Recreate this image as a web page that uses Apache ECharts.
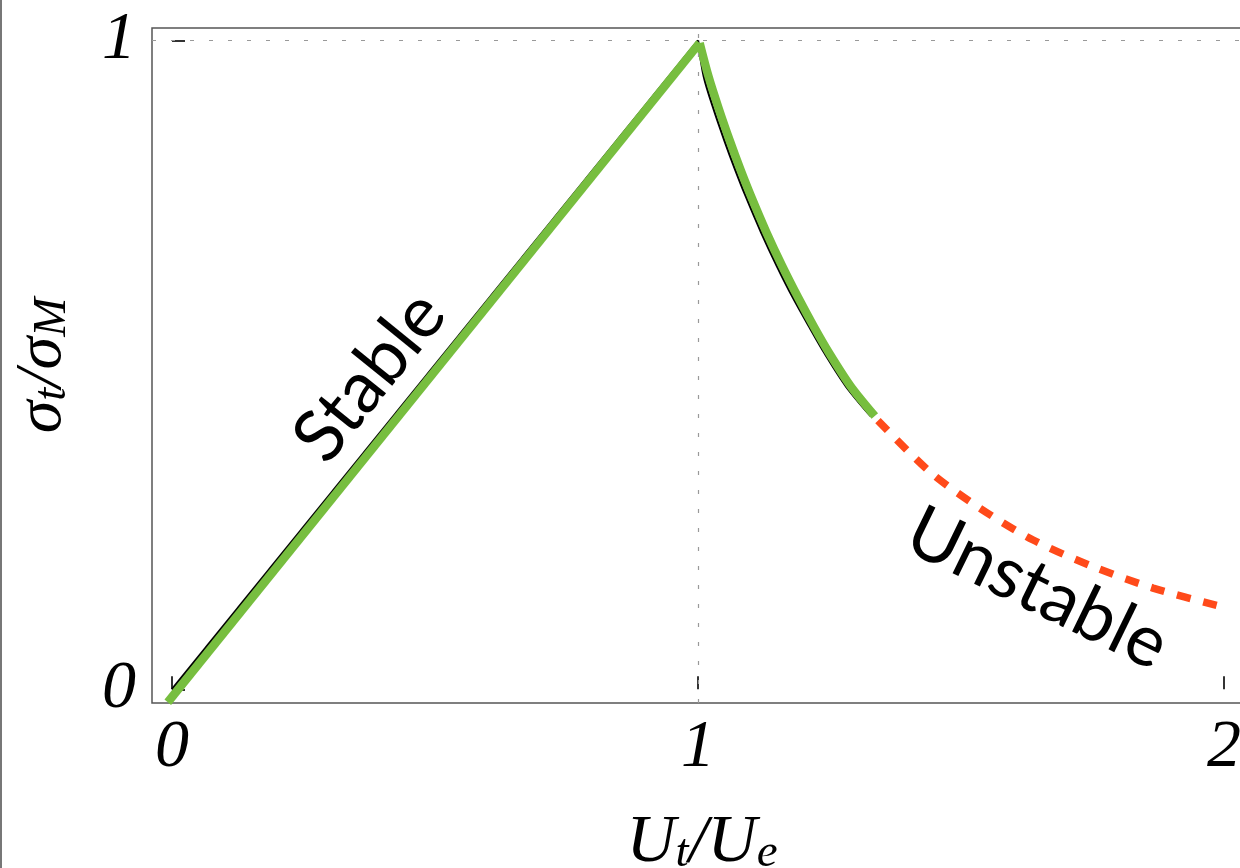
<!DOCTYPE html>
<html>
<head>
<meta charset="utf-8">
<script src="https://cdn.jsdelivr.net/npm/echarts@6/dist/echarts.min.js"></script>
<style>
html,body{margin:0;padding:0;background:#fff;}
#c{width:1240px;height:868px;}
</style>
</head>
<body>
<div id="c"></div>
<script>
// ---- data ----
var xTicks = [0, 1, 2];
var yTicks = [0, 1];
// theoretical (black, thin) curve: rising and falling parts
var blackUpX = [0, 1];
var blackUpY = [0, 1];
var blackDownX = [1, 1.011, 1.030, 1.050, 1.070, 1.090, 1.120, 1.150, 1.180, 1.211, 1.241, 1.281, 1.328];
var blackDownY = [1, 0.944, 0.893, 0.846, 0.802, 0.761, 0.704, 0.652, 0.604, 0.559, 0.517, 0.467, 0.421];
// stable branch (green) - rising part
var greenUpX = [-0.008, 1.003];
var greenUpY = [-0.02, 0.996];
// stable branch (green) - falling part
var greenDownX = [1.003, 1.02, 1.04, 1.06, 1.08, 1.10, 1.13, 1.16, 1.19, 1.22, 1.25, 1.29, 1.336];
var greenDownY = [0.996, 0.944, 0.893, 0.846, 0.802, 0.761, 0.704, 0.652, 0.604, 0.559, 0.517, 0.467, 0.421];
// unstable branch (red dashed)
var redX = [1.342, 1.441, 1.536, 1.637, 1.751, 1.865, 2.002];
var redY = [0.414, 0.335, 0.279, 0.230, 0.189, 0.156, 0.126];
// annotations
var annoText = ['Stable', 'Unstable'];
var annoX = [0.376, 1.645];
var annoY = [0.482, 0.155];
var annoRotDeg = [51, -26];

function zip(a, b) { return a.map(function (v, i) { return [v, b[i]]; }); }

var serif = '"Liberation Serif", "DejaVu Serif", serif';
var chart = echarts.init(document.getElementById('c'));
var option = {
  animation: false,
  backgroundColor: '#fff',
  grid: {
    left: 152, top: 28, width: 1100, height: 675,
    containLabel: false, outerBoundsMode: 'none',
    show: true, borderColor: '#555', borderWidth: 1.5, backgroundColor: 'transparent'
  },
  xAxis: {
    type: 'value', min: -0.038, max: 2.053,
    axisLine: { show: false },
    splitLine: { show: false },
    axisTick: { show: true, inside: true, length: 13, customValues: xTicks, lineStyle: { color: '#333', width: 2 } },
    axisLabel: {
      customValues: xTicks, margin: 11,
      fontFamily: serif, fontStyle: 'italic', fontSize: 68, color: '#000'
    },
    name: '{m|U}{s|t}{m|/U}{s|e}',
    nameLocation: 'middle', nameGap: 106,
    nameTextStyle: {
      rich: {
        m: { fontFamily: serif, fontStyle: 'italic', fontSize: 68, color: '#000', lineHeight: 68, verticalAlign: 'bottom' },
        s: { fontFamily: serif, fontStyle: 'italic', fontSize: 47, color: '#000', lineHeight: 1, verticalAlign: 'bottom' }
      }
    }
  },
  yAxis: {
    type: 'value', min: -0.0211, max: 1.019,
    axisLine: { show: false },
    splitLine: { show: false },
    axisTick: { show: true, inside: true, length: 13, customValues: yTicks, lineStyle: { color: '#333', width: 2 } },
    axisLabel: {
      customValues: yTicks, margin: 16,
      fontFamily: serif, fontStyle: 'italic', fontSize: 68, color: '#000'
    },
    name: '{m|σ}{s|t}{m|/σ}{s|M}',
    nameLocation: 'middle', nameGap: 76, nameRotate: 90,
    nameTextStyle: {
      rich: {
        m: { fontFamily: serif, fontStyle: 'italic', fontSize: 66, color: '#000', lineHeight: 66, verticalAlign: 'bottom' },
        s: { fontFamily: serif, fontStyle: 'italic', fontSize: 47, color: '#000', lineHeight: 1, verticalAlign: 'bottom' }
      }
    }
  },
  series: [
    {
      type: 'line', name: 'theoryUp', data: zip(blackUpX, blackUpY),
      symbol: 'none', z: 2,
      lineStyle: { color: '#000', width: 2.2 },
      markLine: {
        silent: true, symbol: 'none', label: { show: false },
        lineStyle: { color: '#999', type: [4, 15], width: 1.2 },
        data: [{ xAxis: 1 }, { yAxis: 1 }]
      }
    },
    {
      type: 'line', name: 'theoryDown', data: zip(blackDownX, blackDownY), smooth: 0.3,
      symbol: 'none', z: 2,
      lineStyle: { color: '#000', width: 2.2 }
    },
    {
      type: 'line', name: 'stableUp', data: zip(greenUpX, greenUpY),
      symbol: 'none', z: 3,
      lineStyle: { color: '#77BE3F', width: 8.5, cap: 'butt' }
    },
    {
      type: 'line', name: 'stableDown', data: zip(greenDownX, greenDownY), smooth: 0.3,
      symbol: 'none', z: 3,
      lineStyle: { color: '#77BE3F', width: 8.5, cap: 'butt' }
    },
    {
      type: 'line', name: 'unstable', data: zip(redX, redY), smooth: 0.3,
      symbol: 'none', z: 3,
      lineStyle: { color: '#FF4A1A', width: 7.5, type: [14, 13], cap: 'butt' }
    }
  ]
};
chart.setOption(option);

var graphics = [
  { type: 'rect', shape: { x: 0, y: 0, width: 2, height: 868 }, style: { fill: '#777' }, silent: true }
];
annoText.forEach(function (t, i) {
  var p = chart.convertToPixel({ gridIndex: 0 }, [annoX[i], annoY[i]]);
  graphics.push({
    type: 'text', x: p[0], y: p[1], rotation: annoRotDeg[i] * Math.PI / 180, z: 10,
    style: {
      text: t, font: '72px Lato, "Open Sans", sans-serif', fill: '#000',
      align: 'center', verticalAlign: 'middle', textAlign: 'center', textVerticalAlign: 'middle'
    }
  });
});
chart.setOption({ graphic: graphics });
</script>
</body>
</html>
